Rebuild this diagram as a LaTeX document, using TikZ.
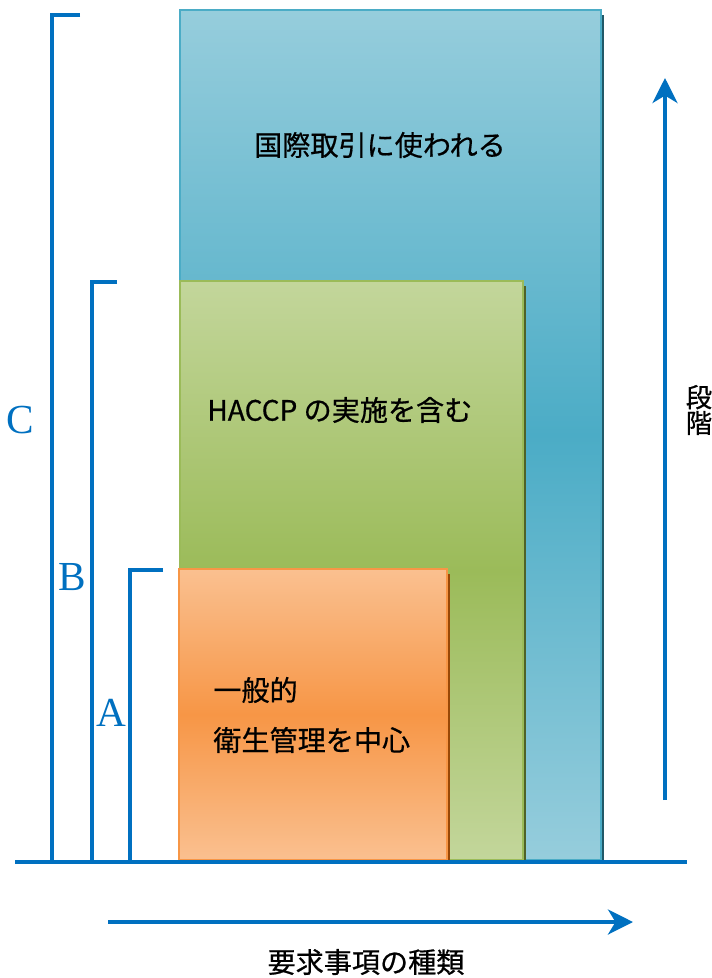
\documentclass[tikz,border=0pt]{standalone}
\usepackage{fontspec}
\usepackage{xcolor}
\usepackage{tikz}
\usetikzlibrary{arrows.meta}
\newfontfamily\jpfont[FakeBold=0.6]{Noto Sans CJK JP}
\newfontfamily\lvlfont{Liberation Serif}
\definecolor{line}{HTML}{0070C0}
\definecolor{bluelt}{HTML}{96CDDC}
\definecolor{bluedk}{HTML}{4BACC6}
\definecolor{bluesh}{HTML}{215968}
\definecolor{greenlt}{HTML}{C3D69B}
\definecolor{greendk}{HTML}{9BBB59}
\definecolor{greensh}{HTML}{4F6228}
\definecolor{orangelt}{HTML}{FAC090}
\definecolor{orangedk}{HTML}{F79646}
\definecolor{orangesh}{HTML}{984807}
\tikzset{
  axis/.style={draw=line, line width=0.09cm},
  brk/.style={draw=line, line width=0.065cm},
  arr/.style={draw=line, line width=0.08cm, -{Stealth[length=0.5cm, width=0.5cm, inset=0.15cm]}},
  boxC/.style={draw=bluedk, line width=0.035cm, top color=bluelt, bottom color=bluelt, middle color=bluedk},
  boxB/.style={draw=greendk, line width=0.035cm, top color=greenlt, bottom color=greenlt, middle color=greendk},
  boxA/.style={draw=orangedk, line width=0.035cm, top color=orangelt, bottom color=orangelt, middle color=orangedk},
  lvl/.style={text=line, font=\lvlfont\fontsize{23.5}{23.5}\selectfont, inner sep=0pt},
  lab/.style={text=black, font=\jpfont\fontsize{16}{19}\selectfont, inner sep=0pt},
  labv/.style={text=black, font=\jpfont\fontsize{15}{13.5}\selectfont, inner sep=0pt, align=center},
}
\begin{document}
\begin{tikzpicture}[x=0.02cm, y=-0.02cm]
  \useasboundingbox (0,0) rectangle (712,978);
  % three levels, widest at the back
  \fill[bluesh] (183,15) rectangle (604,860);
  \draw[boxC] (180,10) rectangle (601,860);
  \fill[greensh] (183,286) rectangle (526,860);
  \draw[boxB] (180,281) rectangle (523,860);
  \fill[orangesh] (182,574) rectangle (450,860);
  \draw[boxA] (179,569) rectangle (447,860);
  \node[lab] (tC) at (380,145) {国際取引に使われる};
  \node[lab, anchor=west] (tB) at (207,410) {HACCP の実施を含む};
  \node[lab, anchor=west] (tA1) at (213,690) {一般的};
  \node[lab, anchor=west] (tA2) at (213,740) {衛生管理を中心};
  % brackets
  \coordinate (c0) at (80,15);  \coordinate (c1) at (52,15);  \coordinate (c2) at (52,862);
  \coordinate (b0) at (117,282); \coordinate (b1) at (92,282); \coordinate (b2) at (92,862);
  \coordinate (a0) at (163,570); \coordinate (a1) at (130,570); \coordinate (a2) at (130,862);
  \draw[brk] (c0) -- (c1) -- (c2);
  \draw[brk] (b0) -- (b1) -- (b2);
  \draw[brk] (a0) -- (a1) -- (a2);
  \node[lvl] (C) at (20,420) {C};
  \node[lvl] (B) at (72,577) {B};
  \node[lvl] (A) at (111,713) {A};
  \coordinate (g0) at (15,862); \coordinate (g1) at (687,862);
  \draw[axis] (g0) -- (g1);
  % axes
  \coordinate (s0) at (665,800); \coordinate (s1) at (665,78);
  \draw[arr] (s0) -- (s1);
  \node[labv] (stage) at (699,410) {段\\階};
  \coordinate (k0) at (108,922); \coordinate (k1) at (633,922);
  \draw[arr] (k0) -- (k1);
  \node[lab] (kind) at (366,962) {要求事項の種類};
\end{tikzpicture}
\end{document}
